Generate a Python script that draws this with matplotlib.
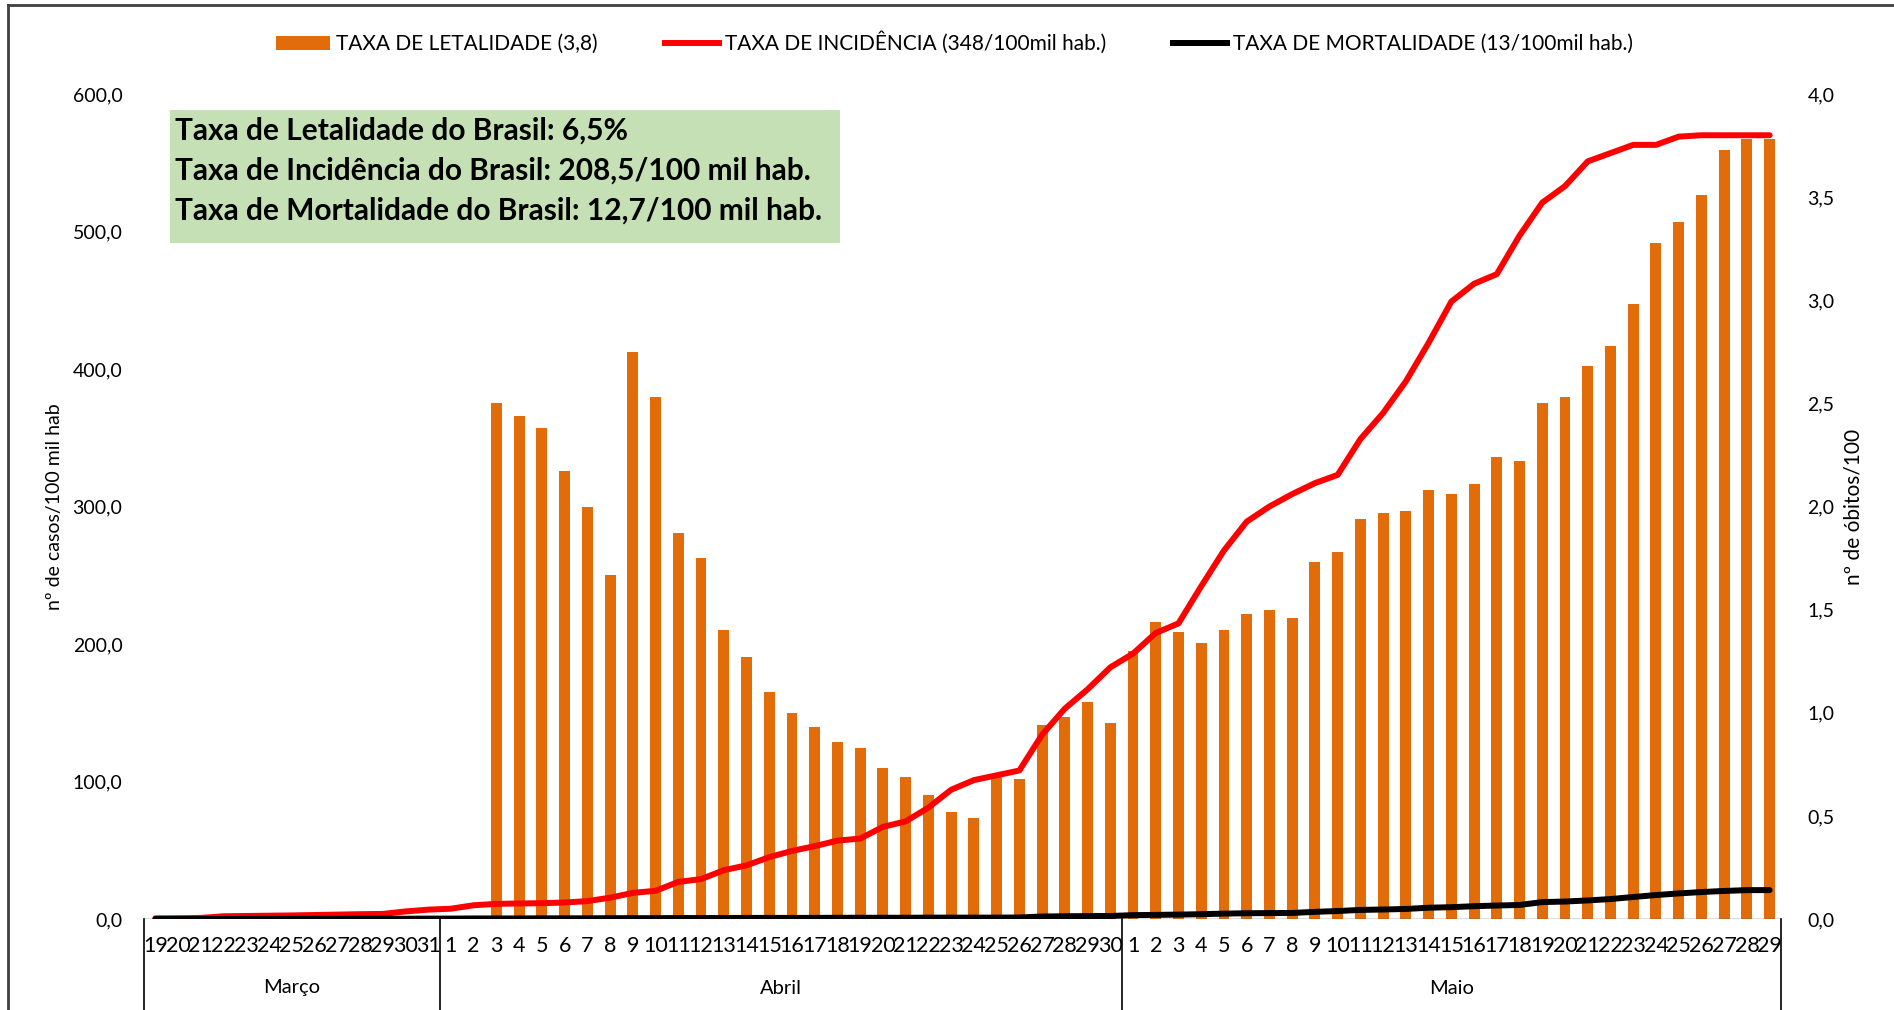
import matplotlib
matplotlib.use("Agg")
import matplotlib.pyplot as plt
from matplotlib.patches import Rectangle, Patch
from matplotlib.lines import Line2D
from matplotlib.transforms import blended_transform_factory
import numpy as np

plt.rcParams['font.family'] = ['Lato', 'DejaVu Sans']

# ---- data ----
days_mar = [str(d) for d in range(19, 32)]
days_abr = [str(d) for d in range(1, 31)]
days_mai = [str(d) for d in range(1, 30)]
day_labels = days_mar + days_abr + days_mai
months = ["Março", "Abril", "Maio"]

# Taxa de letalidade (%), right axis
letalidade = [0]*13 + [
    0, 0, 2.50, 2.44, 2.38, 2.17, 2.00, 1.67, 2.75, 2.53,
    1.87, 1.75, 1.40, 1.27, 1.10, 1.00, 0.93, 0.86, 0.83, 0.73,
    0.69, 0.60, 0.52, 0.49, 0.70, 0.68, 0.94, 0.98, 1.05, 0.95,
] + [
    1.30, 1.44, 1.39, 1.34, 1.40, 1.48, 1.50, 1.46, 1.73, 1.78,
    1.94, 1.97, 1.98, 2.08, 2.06, 2.11, 2.24, 2.22, 2.50, 2.53,
    2.68, 2.78, 2.98, 3.28, 3.38, 3.51, 3.73, 3.78, 3.78,
]

# Taxa de incidência, left axis
incidencia = [
    0.5, 0.6, 0.8, 2.0, 2.2, 2.4, 2.6, 2.9, 3.2, 3.5, 3.7, 5.5, 6.8,
    7.5, 10, 11, 11.3, 11.5, 12, 13, 15.5, 19, 20.5,
    27, 29, 35.5, 39, 45, 49.5, 53, 57, 58.5, 67,
    71, 81, 94, 101, 104.5, 108, 134, 153, 167, 183,
    193, 208, 215, 242, 268, 289, 300, 309, 317, 323,
    349, 368, 391, 419, 449, 462, 469, 497, 521, 533,
    551, 557, 563, 563, 569, 570, 570, 570, 570,
]

# Taxa de mortalidade, left axis
mortalidade = [
    0.0, 0.0, 0.0, 0.0, 0.1, 0.1, 0.1, 0.1, 0.1, 0.2, 0.2, 0.2, 0.3,
    0.3, 0.4, 0.4, 0.4, 0.5, 0.5, 0.5, 0.6, 0.6, 0.6,
    0.7, 0.7, 0.7, 0.8, 0.8, 0.8, 0.8, 0.9, 0.9, 0.9,
    0.9, 1.0, 1.0, 1.0, 1.0, 1.1, 1.8, 2.0, 2.1, 2.2,
    2.8, 3.0, 3.2, 3.5, 3.9, 4.2, 4.3, 4.4, 5.2, 5.8,
    6.6, 6.9, 7.3, 8.2, 8.6, 9.3, 9.8, 10.2, 12.3, 12.7,
    13.5, 14.5, 16.0, 17.4, 18.6, 19.6, 20.4, 21.0, 21.0,
]

left_ticks = [0, 100, 200, 300, 400, 500, 600]
right_ticks = [0, 0.5, 1.0, 1.5, 2.0, 2.5, 3.0, 3.5, 4.0]

legend_labels = ["TAXA DE LETALIDADE (3,8)",
                 "TAXA DE INCIDÊNCIA (348/100mil hab.)",
                 "TAXA DE MORTALIDADE (13/100mil hab.)"]
box_lines = ["Taxa de Letalidade do Brasil: 6,5%",
             "Taxa de Incidência do Brasil: 208,5/100 mil hab.",
             "Taxa de Mortalidade do Brasil: 12,7/100 mil hab."]

# ---- figure ----
W, H = 1894, 1010
fig = plt.figure(figsize=(W/100, H/100), dpi=100)
fig.patch.set_facecolor('white')

ax = fig.add_axes([144/W, 1-919/H, (1781-144)/W, (919-94)/H])
ax2 = ax.twinx()

n = len(day_labels)
x = np.arange(n)

ax2.bar(x, letalidade, width=0.48, color='#E36C0A', zorder=2)
ax.plot(x, incidencia, color='#FF0000', lw=4.3, solid_capstyle='round', zorder=3)
ax.plot(x, mortalidade, color='#000000', lw=4.3, solid_capstyle='round', zorder=3)

ax.set_zorder(ax2.get_zorder() + 1)
ax.patch.set_visible(False)

ax.set_xlim(-0.5, n - 0.5)
ax.set_ylim(0, 600)
ax2.set_ylim(0, 4)

ax.set_yticks(left_ticks)
ax.set_yticklabels([f"{v:.1f}".replace('.', ',') for v in left_ticks], fontsize=14)
ax2.set_yticks(right_ticks)
ax2.set_yticklabels([f"{v:.1f}".replace('.', ',') for v in right_ticks], fontsize=14)
ax.tick_params(axis='y', length=0, pad=15.5)
ax2.tick_params(axis='y', length=0, pad=19)

ax.set_xticks(x)
ax.set_xticklabels(day_labels, fontsize=15.5)
ax.tick_params(axis='x', length=0, pad=12)

for a in (ax, ax2):
    for s in ('left', 'right', 'top', 'bottom'):
        a.spines[s].set_visible(False)
ax.axhline(0, color='#595959', lw=1, zorder=1)

ax.set_ylabel("nº de casos/100 mil hab", fontsize=14, labelpad=0)
ax.yaxis.set_label_coords((63-144)/(1781-144), 0.5)
ax2.set_ylabel("nº de óbitos/100", fontsize=15, rotation=90)
ax2.yaxis.set_label_coords((1844-144)/(1781-144), 0.5)

# group separators and month labels
trans = blended_transform_factory(ax.transData, fig.transFigure)
bounds = [-0.5, len(days_mar) - 0.5, len(days_mar) + len(days_abr) - 0.5, n - 0.5]
for b in bounds:
    ax.add_line(Line2D([b, b], [1-919/H, 0], transform=trans, color='black',
                       lw=1.2, clip_on=False))
for i, m in enumerate(months):
    xc = (bounds[i] + bounds[i+1]) / 2
    ax.text(xc, 1-988/H, m, transform=trans, ha='center', va='center', fontsize=14.5)

# legend
handles = [Patch(facecolor='#E36C0A', edgecolor='none'),
           Line2D([], [], color='#FF0000', lw=4.3),
           Line2D([], [], color='black', lw=4.3)]
fig.legend(handles, legend_labels, loc='center', bbox_to_anchor=(0.504, 1-43/H),
           ncol=3, frameon=False, fontsize=15, handlelength=2.6,
           handletextpad=0.3, columnspacing=3.2)

# info box
fig.add_artist(Rectangle((170/W, 1-243/H), 670/W, 133/H, transform=fig.transFigure,
                         facecolor='#C5E0B4', edgecolor='none', zorder=0))
for i, t in enumerate(box_lines):
    fig.text(175/W, 1-(131+40*i)/H, t, fontsize=21.5, fontweight='bold',
             va='center', ha='left', zorder=5)

# frame border
fig.add_artist(Line2D([8/W, 1], [1-5/H, 1-5/H], transform=fig.transFigure,
                      color='#404040', lw=2))
fig.add_artist(Line2D([8/W, 8/W], [0, 1-5/H], transform=fig.transFigure,
                      color='#404040', lw=2))

fig.savefig("out.png", dpi=100)
